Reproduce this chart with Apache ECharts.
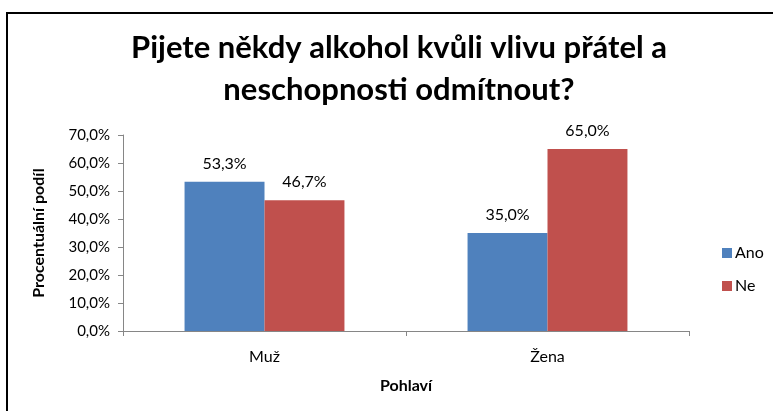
<!DOCTYPE html>
<html><head><meta charset="utf-8">
<script src="https://cdn.jsdelivr.net/npm/echarts@6/dist/echarts.min.js"></script>
<style>html,body{margin:0;padding:0;background:#fff}#c{width:773px;height:411px}
#b{position:absolute;left:6px;top:12px;width:780px;height:420px;border:2px solid #000;box-sizing:border-box;pointer-events:none}</style>
</head><body><div id="c"></div><div id="b"></div>
<script>
const categories = ['Muž', 'Žena'];
const seriesNames = ['Ano', 'Ne'];
const ano = [53.3, 35.0];
const ne = [46.7, 65.0];
const yTicks = [0, 10, 20, 30, 40, 50, 60, 70];
const fmt = v => v.toFixed(1).replace('.', ',') + '%';
const F = 'Lato, "Open Sans", sans-serif';
const chart = echarts.init(document.getElementById('c'));
chart.setOption({
  animation: false,
  title: {
    text: 'Pijete někdy alkohol kvůli vlivu přátel a\nneschopnosti odmítnout?',
    left: 394, top: 22, textAlign: 'center',
    textStyle: { fontFamily: F, fontSize: 31, fontWeight: 'bold', color: '#000', lineHeight: 42 }
  },
  legend: {
    orient: 'vertical', left: 717, top: 240, itemGap: 17,
    itemWidth: 10, itemHeight: 10, icon: 'rect',
    textStyle: { fontFamily: F, fontSize: 16, color: '#000', padding: [0, 0, 0, -2] },
    data: seriesNames
  },
  grid: { left: 123, top: 135, width: 566, height: 196, containLabel: false },
  xAxis: {
    type: 'category', data: categories,
    name: 'Pohlaví', nameLocation: 'middle', nameGap: 47,
    nameTextStyle: { fontFamily: F, fontSize: 16, fontWeight: 'bold', color: '#000' },
    axisLine: { lineStyle: { color: '#868686' } },
    axisTick: { show: true, length: 5, lineStyle: { color: '#868686' } },
    axisLabel: { fontFamily: F, fontSize: 16, color: '#000', margin: 18 }
  },
  yAxis: {
    type: 'value', min: yTicks[0], max: yTicks[yTicks.length - 1], interval: 10,
    name: 'Procentuální podíl', nameLocation: 'middle', nameGap: 76,
    nameTextStyle: { fontFamily: F, fontSize: 16, fontWeight: 'bold', color: '#000' },
    axisLine: { show: true, lineStyle: { color: '#868686' } },
    axisTick: { show: true, length: 5, lineStyle: { color: '#868686' } },
    splitLine: { show: false },
    axisLabel: { fontFamily: F, fontSize: 15, color: '#000', margin: 13, formatter: fmt }
  },
  series: [
    { name: seriesNames[0], type: 'bar', data: ano, barGap: '0%', barCategoryGap: '43.5%',
      itemStyle: { color: '#4F81BD' },
      label: { show: true, position: 'top', distance: 10, formatter: p => fmt(p.value), fontFamily: F, fontSize: 16, color: '#000' } },
    { name: seriesNames[1], type: 'bar', data: ne, barGap: '0%', barCategoryGap: '43.5%',
      itemStyle: { color: '#C0504D' },
      label: { show: true, position: 'top', distance: 10, formatter: p => fmt(p.value), fontFamily: F, fontSize: 16, color: '#000' } }
  ]
});
</script></body></html>
